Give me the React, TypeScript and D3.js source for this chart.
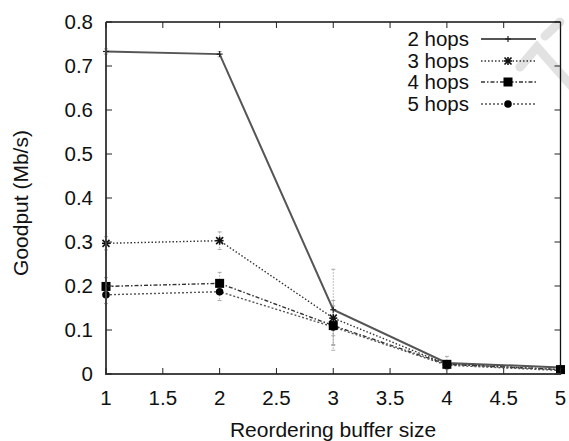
import React from "react";
import * as d3 from "d3";

const bufferSizes = [1, 2, 3, 4, 5];
const hops2 = [0.733, 0.727, 0.146, 0.025, 0.015];
const hops3 = [0.297, 0.303, 0.127, 0.022, 0.01];
const hops4 = [0.199, 0.206, 0.11, 0.022, 0.01];
const hops5 = [0.18, 0.187, 0.107, 0.02, 0.008];
const err2 = [0.006, 0.006, 0.092, 0.015, 0.004];
const err3 = [0.015, 0.02, 0.04, 0.006, 0.004];
const err4 = [0.02, 0.025, 0.045, 0.006, 0.004];
const err5 = [0.02, 0.02, 0.04, 0.006, 0.004];
const seriesNames = ["2 hops", "3 hops", "4 hops", "5 hops"];
const xTicks = [1, 1.5, 2, 2.5, 3, 3.5, 4, 4.5, 5];
const yTicks = [0, 0.1, 0.2, 0.3, 0.4, 0.5, 0.6, 0.7, 0.8];

const W = 569;
const H = 441;
const FONT = "'Liberation Sans', Arial, sans-serif";

type Style = { stroke: string; width: number; dash?: string; marker: string };
const styles: Style[] = [
  { stroke: "#555", width: 2, marker: "plus" },
  { stroke: "#333", width: 1.4, dash: "1.5,2", marker: "star" },
  { stroke: "#333", width: 1.4, dash: "4,2,1.5,2", marker: "square" },
  { stroke: "#555", width: 1.4, dash: "2,2", marker: "circle" },
];

function Marker({ kind, x, y }: { kind: string; x: number; y: number }) {
  if (kind === "plus")
    return (
      <g stroke="#222" strokeWidth={1.2}>
        <line x1={x - 3} x2={x + 3} y1={y} y2={y} />
        <line x1={x} x2={x} y1={y - 3} y2={y + 3} />
      </g>
    );
  if (kind === "star")
    return (
      <g stroke="#111" strokeWidth={1.6}>
        <line x1={x - 3.5} x2={x + 3.5} y1={y - 3.5} y2={y + 3.5} />
        <line x1={x - 3.5} x2={x + 3.5} y1={y + 3.5} y2={y - 3.5} />
        <line x1={x - 4} x2={x + 4} y1={y} y2={y} />
        <line x1={x} x2={x} y1={y - 4} y2={y + 4} />
      </g>
    );
  if (kind === "square") return <rect x={x - 4.5} y={y - 4.5} width={9} height={9} fill="#000" />;
  return <circle cx={x} cy={y} r={3.8} fill="#000" />;
}

export default function App() {
  const x = d3.scaleLinear().domain([1, 5]).range([106, 560.5]);
  const y = d3.scaleLinear().domain([0, 0.8]).range([374, 22]);
  const data = [hops2, hops3, hops4, hops5];
  const errs = [err2, err3, err4, err5];
  const line = d3
    .line<number>()
    .x((_, i) => x(bufferSizes[i]))
    .y((d) => y(d));

  const legendY = [39, 61, 82, 104];

  return (
    <svg width={W} height={H} style={{ position: "absolute", left: 0, top: 0 }} fontFamily={FONT}>
      <rect width={W} height={H} fill="#fff" />
      {/* watermark */}
      <g stroke="#e2e2e2" strokeWidth={9} fill="none" strokeLinecap="round">
        <polyline points="520,67 537,47 575,90" />
        <polyline points="545,36 560,22" />
      </g>
      {/* error bars */}
      {errs.map((es, si) =>
        es.map((e, i) => {
          const cx = x(bufferSizes[i]);
          const v = data[si][i];
          return (
            <g key={`e${si}-${i}`} stroke="#aaa" strokeWidth={1}>
              <line x1={cx} x2={cx} y1={y(v + e)} y2={y(v - e)} strokeDasharray="1.5,1.5" />
              <line x1={cx - 2} x2={cx + 2} y1={y(v + e)} y2={y(v + e)} />
              <line x1={cx - 2} x2={cx + 2} y1={y(v - e)} y2={y(v - e)} />
            </g>
          );
        })
      )}
      {/* series lines */}
      {data.map((d, si) => (
        <path
          key={`l${si}`}
          d={line(d) || ""}
          fill="none"
          stroke={styles[si].stroke}
          strokeWidth={styles[si].width}
          strokeDasharray={styles[si].dash}
        />
      ))}
      {data.map((d, si) =>
        d.map((v, i) => <Marker key={`m${si}-${i}`} kind={styles[si].marker} x={x(bufferSizes[i])} y={y(v)} />)
      )}
      {/* frame */}
      <line x1={106} x2={560.5} y1={22} y2={22} stroke="#111" strokeWidth={1.3} />
      <line x1={560.5} x2={560.5} y1={22} y2={374} stroke="#111" strokeWidth={1.3} />
      <line x1={106} x2={106} y1={22} y2={375} stroke="#444" strokeWidth={2} />
      <line x1={105} x2={561} y1={374} y2={374} stroke="#444" strokeWidth={2} />
      {/* ticks */}
      {xTicks.map((t) => (
        <g key={`xt${t}`} stroke="#222" strokeWidth={1}>
          <line x1={x(t)} x2={x(t)} y1={374} y2={368} />
          <line x1={x(t)} x2={x(t)} y1={22} y2={28} />
        </g>
      ))}
      {yTicks.map((t) => (
        <g key={`yt${t}`} stroke="#222" strokeWidth={1}>
          <line x1={106} x2={112} y1={y(t)} y2={y(t)} />
          <line x1={560.5} x2={554.5} y1={y(t)} y2={y(t)} />
        </g>
      ))}
      {xTicks.map((t) => (
        <text key={`xl${t}`} x={x(t)} y={405} textAnchor="middle" fontSize={20.5} fill="#111">
          {d3.format("~g")(t)}
        </text>
      ))}
      {yTicks.map((t) => (
        <text key={`yl${t}`} x={93} y={y(t) + 7} textAnchor="end" fontSize={20.5} fill="#111">
          {t === 0 ? "0" : d3.format(".1f")(t)}
        </text>
      ))}
      <text x={333} y={437} textAnchor="middle" fontSize={21} fill="#111">
        Reordering buffer size
      </text>
      <text transform="translate(28,203) rotate(-90)" textAnchor="middle" fontSize={21} fill="#111">
        Goodput (Mb/s)
      </text>
      {/* legend */}
      {seriesNames.map((n, i) => (
        <g key={`lg${i}`}>
          <text x={469} y={legendY[i] + 7} textAnchor="end" fontSize={20.5} fill="#111">
            {n}
          </text>
          <line
            x1={481}
            x2={536}
            y1={legendY[i]}
            y2={legendY[i]}
            stroke={styles[i].stroke}
            strokeWidth={styles[i].width}
            strokeDasharray={styles[i].dash}
          />
          <Marker kind={styles[i].marker} x={508} y={legendY[i]} />
        </g>
      ))}
    </svg>
  );
}
